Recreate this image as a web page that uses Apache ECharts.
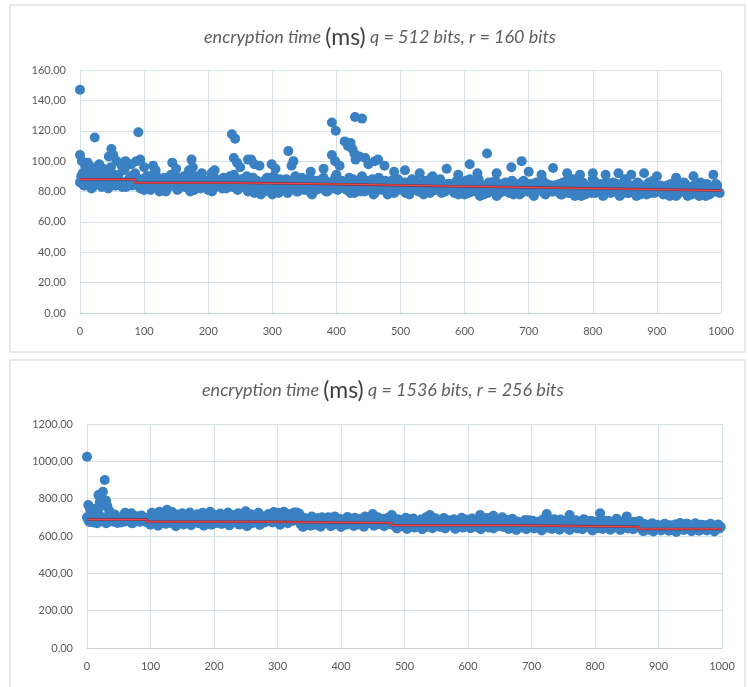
<!DOCTYPE html>
<html>
<head>
<meta charset="utf-8">
<script src="https://cdn.jsdelivr.net/npm/echarts@6/dist/echarts.min.js"></script>
<style>
html,body{margin:0;padding:0;background:#fff;}
#c{width:748px;height:687px;}
</style>
</head>
<body>
<div id="c"></div>
<script>
// ---------- data ----------
// the dense band is stored as every 4th measurement (samples 0,4,8,...) plus a
// second array for samples 2,6,10,...
var bandStep = 4;
var bandOffset2 = 2;

// Top chart: q = 512 bits, r = 160 bits (ms)
var topBand = [
  86, 92, 84, 90, 95, 83, 88, 91, 85, 93, 87, 82, 96, 89, 84, 91, 86, 94, 83, 88, 90, 85, 87,
  84, 88, 81, 90, 86, 83, 92, 85, 80, 87, 89, 82, 86, 84, 91, 81, 88, 85, 83, 87,
  80, 86, 90, 84, 82, 88, 85, 81, 87, 93, 83, 86, 84, 89, 82, 88, 85, 91, 86, 87,
  88, 84, 90, 82, 86, 79, 87, 83, 85, 80, 89, 84, 78, 86, 82, 88, 81, 85, 79, 87,
  83, 90, 80, 86, 82, 84, 88, 79, 85, 81, 87, 83, 89, 80, 86, 84, 82, 91, 85, 87,
  86, 81, 89, 84, 79, 87, 83, 90, 80, 85, 82, 88, 79, 84, 86, 81, 87, 78, 83, 85, 80,
  88, 82, 84, 79, 86, 81, 83, 87, 80, 85, 78, 84, 82, 89, 81, 83, 86, 79, 84, 82, 85,
  84, 79, 87, 81, 85, 78, 83, 88, 80, 82, 86, 77, 84, 81, 79, 85, 83, 87, 78, 82, 80,
  86, 81, 84, 78, 83, 85, 79, 87, 82, 80, 84, 77, 86, 81, 83, 79, 85, 82, 80, 84,
  80, 85, 78, 83, 87, 79, 82, 77, 84, 81, 86, 78, 83, 80, 88, 79, 82, 85, 77, 81, 84,
  79, 86, 80, 83, 78, 82, 87, 79, 81, 84, 77, 85, 80, 83, 78, 86, 81, 79, 84, 80, 82,
  79, 84, 77, 82, 86, 78, 81, 80, 85, 77, 83, 79, 82, 78, 86, 80, 77, 83, 79, 81, 85, 80
];
var topBand2 = [
  90, 84, 93, 87, 82, 89, 94, 86, 83, 91, 88, 85, 92, 84, 90, 87, 83, 95, 86, 89, 84, 92, 88,
  82, 87, 85, 90, 81, 86, 84, 89, 83, 88, 80, 85, 91, 84, 87, 82, 86, 90, 83, 85,
  88, 81, 86, 84, 92, 83, 87, 85, 80, 89, 84, 86, 82, 88, 85, 90, 83, 86, 81, 87,
  83, 87, 80, 85, 89, 82, 86, 78, 84, 88, 81, 85, 90, 83, 79, 86, 84, 88, 82, 85,
  87, 80, 84, 89, 81, 86, 83, 78, 87, 84, 82, 88, 85, 80, 86, 83, 89, 81, 84, 86,
  82, 85, 79, 88, 83, 86, 80, 84, 87, 81, 85, 78, 83, 89, 82, 86, 80, 84, 87, 79, 85,
  83, 81, 86, 84, 78, 88, 82, 85, 80, 84, 87, 83, 79, 86, 81, 84, 88, 82, 80, 85, 83,
  81, 86, 78, 84, 82, 87, 79, 83, 85, 80, 88, 82, 78, 84, 86, 81, 83, 77, 85, 80, 82,
  84, 79, 87, 81, 83, 78, 86, 82, 80, 85, 83, 79, 84, 81, 87, 78, 82, 84, 80, 83,
  83, 78, 86, 81, 79, 84, 88, 80, 82, 77, 85, 81, 83, 79, 87, 80, 82, 84, 78, 86, 81,
  83, 80, 85, 77, 82, 88, 79, 84, 81, 80, 86, 78, 83, 82, 85, 79, 87, 80, 81, 84, 78,
  82, 78, 85, 80, 77, 83, 81, 86, 79, 82, 78, 84, 80, 77, 83, 81, 85, 78, 82, 80, 84, 79
];
// Top chart: individual higher measurements [sample, ms]
var topOutliers = [
  [0,147],[0,104],[3,100],[8,97],[12,99],[18,96],[23,115.5],[30,98],[36,95],[45,103],
  [49,108],[52,104],[57,100],[65,97],[71,100],[80,98],[88,100],[91,119],[94,101],[100,96],
  [114,97],[118,94],[144,99],[150,95],[170,94],[174,101],[176,96],[205,92],[210,94],
  [237,117.7],[242,114.8],[240,102],[245,99],[250,96],[262,101],[267,101],[272,98],[280,97],
  [299,98],[305,95],[325,106.6],[333,100],[330,97],[360,93],[380,95],[393,125.4],[399,120],
  [393,104],[398,100],[405,97],[413,113],[418,110],[422,112],[425,108],[428,105],[430,101],
  [429,129],[440,128],[436,103],[445,102],[450,98],[460,100],[465,101],[475,97],[490,93],
  [507,94],[530,92],[550,90],[572,95],[590,91],[608,98],[620,92],[635,105],[650,92],[673,96],
  [689,100],[700,93],[720,91],[738,95.5],[760,92],[780,91],[800,92],[820,91],[840,92],
  [860,91],[880,92],[900,90],[930,89],[957,90],[988,91]
];
// Top chart: red average line, step breakpoints and levels
var topStepX = [0, 86, 247, 408, 577, 741, 910, 1000];
var topStepY = [88, 85.7, 84.8, 83.5, 82.4, 81.3, 80.6];

// Bottom chart: q = 1536 bits, r = 256 bits (ms)
var botBand = [
  700, 675, 720, 690, 668, 710, 685, 695, 672, 705, 680, 715, 670, 690, 700, 678, 712, 684, 668, 698, 706, 676, 690, 682,
  690, 660, 705, 672, 655, 698, 680, 665, 712, 670, 688, 652, 695, 675, 662, 708, 678, 658, 700, 684,
  668, 692, 655, 703, 674, 660, 688, 670, 698, 664, 682, 710, 657, 690, 672, 700, 661, 685, 676, 652,
  694, 668, 706, 680, 659, 690, 672, 698,
  700, 672, 712, 685, 660, 705, 690, 668, 710, 680, 698, 715,
  665, 648, 690, 672, 655, 684, 660, 695, 650, 678, 668, 700, 652, 682, 664, 690, 648, 675, 660, 698,
  670, 654, 686, 662, 692, 650, 676, 668, 700, 655, 680, 664, 690, 652, 674, 685, 660,
  660, 640, 682, 652, 670, 638, 690, 655, 645, 675, 662, 636, 686, 650, 668, 642, 695, 658, 648, 672,
  640, 664, 680, 652, 638, 676, 660, 645, 688, 655, 642, 670, 650, 662, 636, 684, 658, 646, 674, 640,
  666, 652, 690, 648, 660, 638, 672,
  650, 632, 672, 645, 660, 636, 684, 648, 640, 668, 655, 630, 678, 644, 662, 638, 690, 652, 634, 670,
  646, 658, 632, 680, 650, 640, 666, 636, 686, 648, 655, 630, 674, 642, 660, 638, 682, 650, 634, 668,
  645, 656, 632, 676, 648, 640, 664, 636, 672, 652,
  640, 626, 660, 634, 648, 624, 655, 638, 630, 662, 642, 628, 652, 636, 622, 658, 645, 632, 665, 640,
  626, 650, 636, 628, 660, 644, 630, 654, 638, 624, 648, 640
];
var botBand2 = [
  685, 705, 672, 698, 715, 680, 692, 668, 708, 688, 676, 700, 690, 672, 712, 684, 695, 670, 702, 686, 678, 710, 692, 674,
  700, 725, 688, 712, 730, 695, 718, 684, 706, 728, 692, 715, 680, 722, 702, 690, 726, 710, 686, 716,
  698, 724, 684, 708, 730, 694, 714, 680, 720, 704, 688, 726, 698, 712, 682, 722, 706, 690, 728, 700,
  716, 686, 710, 724, 694, 706, 684, 718,
  712, 728, 700, 722, 690, 730, 706, 718, 696, 726, 710, 720,
  680, 698, 670, 690, 704, 676, 694, 668, 700, 684, 672, 696, 688, 705, 674, 692, 682, 666, 702, 686,
  678, 698, 670, 690, 684, 704, 676, 694, 668, 688, 700, 680, 692, 674, 698, 686, 672,
  672, 690, 660, 684, 698, 666, 680, 694, 656, 676, 688, 664, 700, 670, 686, 660, 692, 678, 668, 696,
  674, 684, 658, 690, 680, 666, 698, 672, 686, 662, 694, 676, 670, 688, 656, 682, 696, 664, 690, 674,
  680, 668, 700, 660, 686, 676, 692,
  660, 678, 650, 672, 686, 656, 668, 682, 648, 676, 664, 690, 654, 670, 684, 658, 674, 662, 688, 652,
  680, 666, 676, 648, 684, 660, 672, 690, 656, 668, 682, 650, 676, 664, 686, 654, 670, 680, 658, 674,
  692, 662, 678, 650, 684, 668, 656, 676, 664, 680,
  650, 664, 640, 656, 668, 644, 660, 636, 652, 666, 646, 658, 634, 662, 648, 670, 642, 656, 664, 638,
  654, 668, 646, 660, 640, 658, 650, 666, 644, 656, 662, 648
];
var botOutliers = [
  [0,1025],[2,766],[5,740],[8,720],[12,745],[15,730],[18,820],[20,780],[22,760],[25,837],
  [28,900],[30,790],[32,760],[35,735],[60,725],[70,722],[126,740],[250,732],[300,725],
  [330,726],[450,718],[480,712],[540,712],[619,712],[640,708],[724,718],[760,712],[808,722],[850,705]
];
var botStepX = [0, 94, 286, 480, 671, 868, 1000];
var botStepY = [688, 676, 670, 657, 649, 638];

// axis ticks
var xTicks = {min: 0, max: 1000, interval: 100};
var topTicks = {min: 0, max: 160, interval: 20};
var botTicks = {min: 0, max: 1200, interval: 200};

// ---------- build ----------
function bandPoints(vals, off) {
  return vals.map(function (v, i) { return [i * bandStep + off, v]; });
}
function stepPoints(xs, ys) {
  var pts = [];
  for (var i = 0; i < ys.length; i++) pts.push([xs[i], ys[i]]);
  pts.push([xs[xs.length - 1], ys[ys.length - 1]]);
  return pts;
}

var blue = '#3a81c3';
var gridCol = '#d6e1e7';
var labelCol = '#595959';
var fontFam = 'Lato, "Open Sans", sans-serif';

function fmt(v) { return v.toFixed(2).replace('.', ','); }

function xAxis(gi) {
  return {
    type: 'value', gridIndex: gi, min: xTicks.min, max: xTicks.max, interval: xTicks.interval,
    axisLine: {show: true, lineStyle: {color: '#c8d3d9'}},
    axisTick: {show: false},
    splitLine: {show: true, lineStyle: {color: gridCol, width: 1}},
    axisLabel: {color: labelCol, fontSize: 11, fontFamily: fontFam, margin: 13, formatter: function (v) { return String(v); }}
  };
}
function yAxis(gi, t) {
  return {
    type: 'value', gridIndex: gi, min: t.min, max: t.max, interval: t.interval,
    axisLine: {show: false}, axisTick: {show: false},
    splitLine: {show: true, lineStyle: {color: gridCol, width: 1}},
    axisLabel: {color: labelCol, fontSize: 11, fontFamily: fontFam, margin: 14, formatter: fmt}
  };
}
function titleRich(txt2) {
  return {
    text: '{a|encryption time }{b|(ms)}{a| ' + txt2 + '}',
    textStyle: {
      fontWeight: 'normal',
      rich: {
        a: {fontSize: 18, fontStyle: 'italic', fontWeight: 'normal', color: '#5f5f5f', fontFamily: fontFam},
        b: {fontSize: 23, fontWeight: 'normal', color: '#404040', fontFamily: fontFam}
      }
    }
  };
}

var t1 = titleRich('q = 512 bits, r = 160 bits');
t1.left = 199; t1.top = 21;
var t2 = titleRich('q = 1536 bits, r = 256 bits');
t2.left = 197; t2.top = 374;

var dot = {color: blue, opacity: 1};
var ds = 10;
var chart = echarts.init(document.getElementById('c'), null, {renderer: 'canvas'});
chart.setOption({
  animation: false,
  backgroundColor: '#ffffff',
  title: [t1, t2],
  graphic: [
    {type: 'rect', shape: {x: 10, y: 5, width: 735, height: 347}, style: {fill: 'none', stroke: '#dde3e6', lineWidth: 1.5}, z: -1},
    {type: 'rect', shape: {x: 10, y: 360, width: 735, height: 335}, style: {fill: 'none', stroke: '#dde3e6', lineWidth: 1.5}, z: -1}
  ],
  grid: [
    {left: 80, top: 70, width: 641, height: 243},
    {left: 87, top: 424, width: 635, height: 224}
  ],
  xAxis: [xAxis(0), xAxis(1)],
  yAxis: [yAxis(0, topTicks), yAxis(1, botTicks)],
  series: [
    {type: 'scatter', xAxisIndex: 0, yAxisIndex: 0, symbolSize: ds, itemStyle: dot, data: bandPoints(topBand, 0)},
    {type: 'scatter', xAxisIndex: 0, yAxisIndex: 0, symbolSize: ds, itemStyle: dot, data: bandPoints(topBand2, bandOffset2)},
    {type: 'scatter', xAxisIndex: 0, yAxisIndex: 0, symbolSize: ds, itemStyle: dot, data: topOutliers},
    {type: 'line', xAxisIndex: 0, yAxisIndex: 0, step: 'end', symbol: 'none', z: 5, lineStyle: {color: '#7a3040', width: 2.5}, data: stepPoints(topStepX, topStepY)},
    {type: 'line', xAxisIndex: 0, yAxisIndex: 0, step: 'end', symbol: 'none', z: 6, lineStyle: {color: '#f04848', width: 1.3}, data: stepPoints(topStepX, topStepY)},
    {type: 'scatter', xAxisIndex: 1, yAxisIndex: 1, symbolSize: ds, itemStyle: dot, data: bandPoints(botBand, 0)},
    {type: 'scatter', xAxisIndex: 1, yAxisIndex: 1, symbolSize: ds, itemStyle: dot, data: bandPoints(botBand2, bandOffset2)},
    {type: 'scatter', xAxisIndex: 1, yAxisIndex: 1, symbolSize: ds, itemStyle: dot, data: botOutliers},
    {type: 'line', xAxisIndex: 1, yAxisIndex: 1, step: 'end', symbol: 'none', z: 5, lineStyle: {color: '#7a3040', width: 2.5}, data: stepPoints(botStepX, botStepY)},
    {type: 'line', xAxisIndex: 1, yAxisIndex: 1, step: 'end', symbol: 'none', z: 6, lineStyle: {color: '#f04848', width: 1.3}, data: stepPoints(botStepX, botStepY)}
  ]
});
</script>
</body>
</html>
